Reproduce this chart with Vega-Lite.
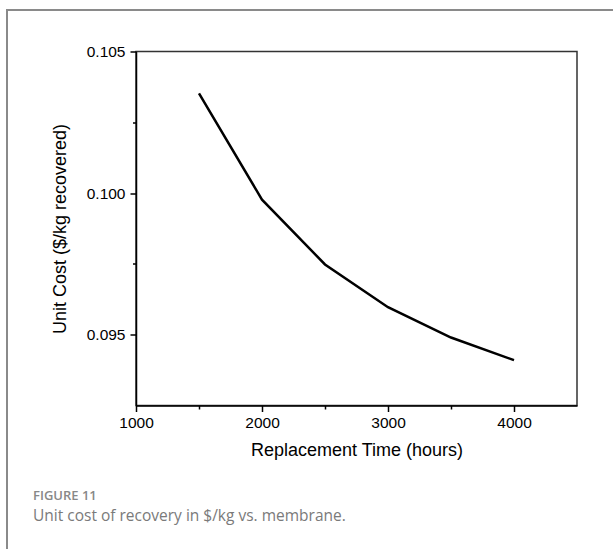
{
  "$schema": "https://vega.github.io/schema/vega-lite/v6.json",
  "autosize": "none",
  "width": 441,
  "height": 354,
  "padding": {"left": 136, "top": 51.5, "right": 36, "bottom": 143.5},
  "background": "white",
  "config": {
    "view": {"stroke": "#333333", "strokeWidth": 1.5},
    "font": "Liberation Sans"
  },
  "title": {
    "text": "FIGURE 11",
    "subtitle": "Unit cost of recovery in $/kg vs. membrane.",
    "orient": "bottom",
    "anchor": "start",
    "frame": "group",
    "dx": -103,
    "offset": -83,
    "font": "Open Sans",
    "fontSize": 13,
    "fontWeight": 600,
    "color": "#888888",
    "subtitleFont": "Open Sans",
    "subtitleFontSize": 15.5,
    "subtitleFontWeight": "normal",
    "subtitleColor": "#7a7a7a",
    "subtitlePadding": 6
  },
  "datasets": {
    "cost": [
      {"hours": 1500, "cost": 0.10352},
      {"hours": 2000, "cost": 0.09977},
      {"hours": 2500, "cost": 0.09748},
      {"hours": 3000, "cost": 0.09597},
      {"hours": 3500, "cost": 0.0949},
      {"hours": 4000, "cost": 0.0941}
    ]
  },
  "layer": [
    {
      "data": {"values": [{"frame": "figure"}]},
      "mark": {"type": "rect", "fill": null, "stroke": "#8a8a8a", "strokeWidth": 2, "clip": false},
      "encoding": {
        "x": {"value": -129},
        "x2": {"value": 490},
        "y": {"value": -41.5},
        "y2": {"value": 520}
      }
    },
    {
      "data": {"name": "cost"},
      "mark": {"type": "line", "color": "black", "strokeWidth": 2.5},
      "encoding": {
        "x": {
          "field": "hours",
          "type": "quantitative",
          "scale": {"domain": [1000, 4500], "nice": false, "zero": false},
          "axis": {
            "title": "Replacement Time (hours)",
            "titleFontSize": 18,
            "titleFontWeight": "normal",
            "titleColor": "black",
            "titlePadding": 10,
            "values": [1000, 1500, 2000, 2500, 3000, 3500, 4000],
            "format": "d",
            "labelExpr": "datum.value % 1000 === 0 ? datum.label : ''",
            "labelFontSize": 15.5,
            "labelColor": "black",
            "labelPadding": 4,
            "labelFlush": false,
            "grid": false,
            "domainColor": "black",
            "domainWidth": 1.5,
            "tickColor": "black",
            "tickWidth": 1.5,
            "tickSize": {"condition": {"test": "datum.value % 1000 === 0", "value": 6}, "value": 3.5}
          }
        },
        "y": {
          "field": "cost",
          "type": "quantitative",
          "scale": {"domain": [0.0925, 0.105], "nice": false, "zero": false},
          "axis": {
            "title": "Unit Cost ($/kg recovered)",
            "titleFontSize": 18,
            "titleFontWeight": "normal",
            "titleColor": "black",
            "titlePadding": 17,
            "values": [0.095, 0.0975, 0.1, 0.1025, 0.105],
            "format": ".3f",
            "labelExpr": "abs(datum.value * 200 - round(datum.value * 200)) < 0.001 ? datum.label : ''",
            "labelFontSize": 15.5,
            "labelColor": "black",
            "labelPadding": 5,
            "labelFlush": false,
            "grid": false,
            "domainColor": "black",
            "domainWidth": 1.5,
            "tickColor": "black",
            "tickWidth": 1.5,
            "tickSize": {"condition": {"test": "abs(datum.value * 200 - round(datum.value * 200)) < 0.001", "value": 6}, "value": 3.5}
          }
        }
      }
    }
  ]
}
